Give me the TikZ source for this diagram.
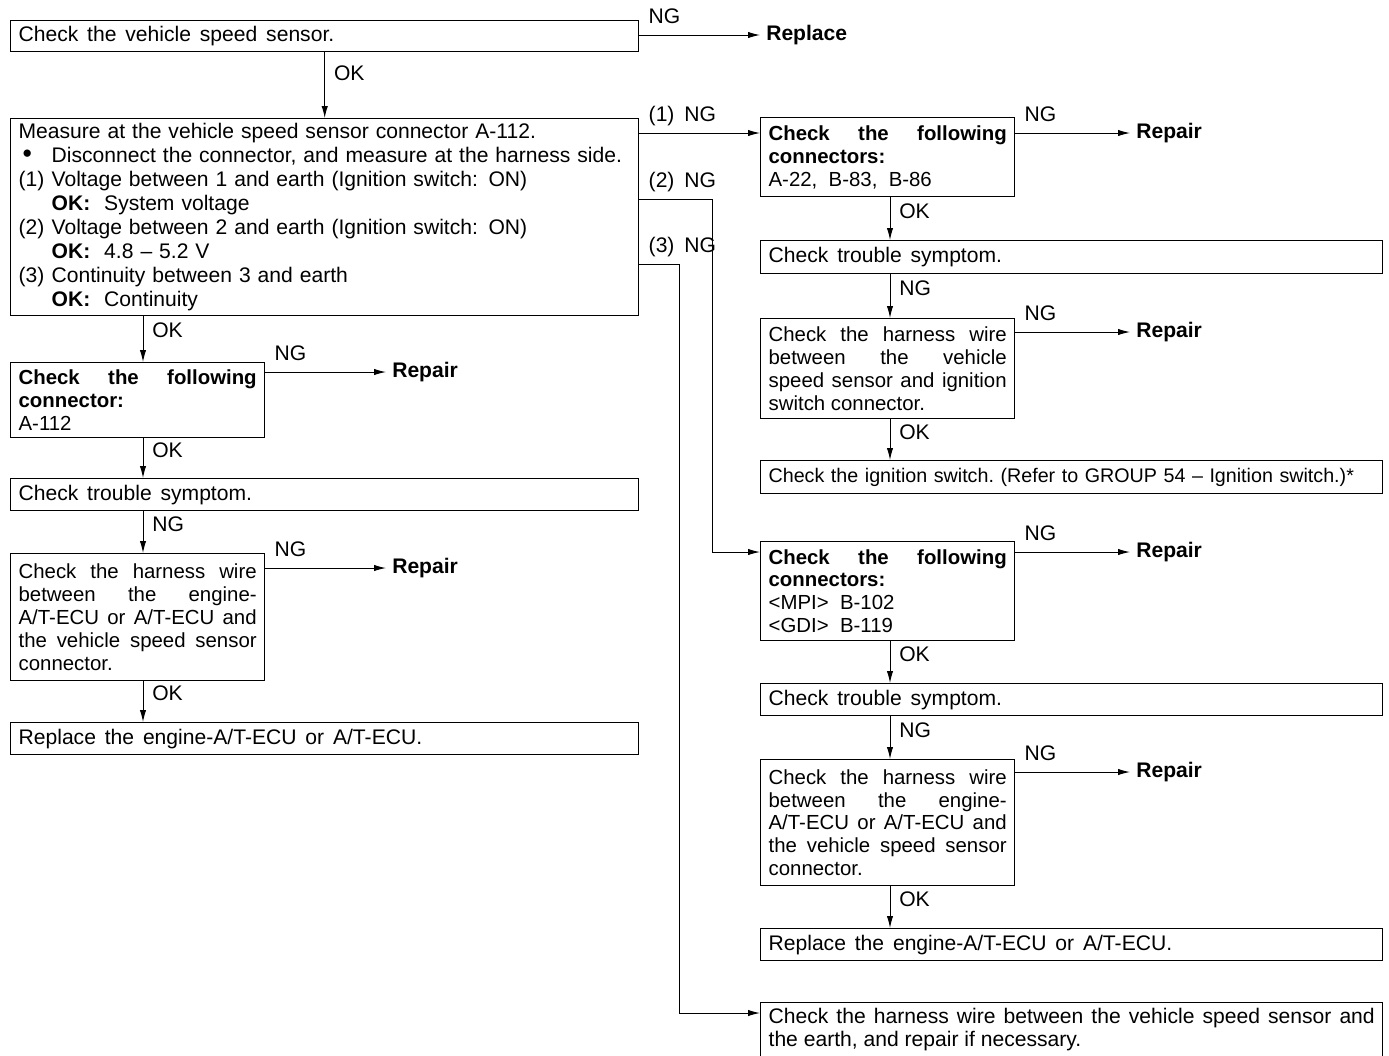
\documentclass[tikz,border=0pt]{standalone}
\usepackage{fontspec}
\setmainfont{Liberation Sans}
\usetikzlibrary{arrows.meta}

\newcommand{\widespace}{\spaceskip=0.42em\relax}
\newcommand{\midspace}{\spaceskip=0.33em\relax}

\tikzset{
    every node/.style={font=\fontsize{15}{17}\selectfont},
    box/.style={draw, line width=0.9pt, anchor=north west, inner xsep=0.2cm, inner ysep=0.06cm},
    longL/.style={box, text width=15.3cm, align=left},
    longR/.style={box, text width=15.15cm, align=left},
    slim/.style={box, text width=5.95cm, align=justify, font=\fontsize{14.5}{16.3}\selectfont},
    rep/.style={anchor=west, inner sep=0.15cm, font=\fontsize{15}{17}\selectfont\bfseries},
    ng/.style={anchor=base west, inner sep=0pt, xshift=0.22cm, yshift=0.3cm},
    ok/.style={anchor=west, inner sep=0pt, xshift=0.22cm},
    conn/.style={line width=0.7pt, ->}
}

\begin{document}
\begin{tikzpicture}[x=0.025cm, y=-0.025cm, >={Latex[length=0.3cm,width=0.16cm]}]
    \useasboundingbox (0,0) rectangle (1389,1055);
    \clip (0,0) rectangle (1389,1055);

    % left column
    \node[longL, minimum height=0.775cm, execute at begin node=\widespace] (vss) at (10,20) {Check the vehicle speed sensor.};
    \node[longL, minimum height=4.925cm, execute at begin node=\midspace] (meas) at (10,118) {Measure at the vehicle speed sensor connector A-112.\\
        \makebox[0.825cm][l]{\hspace{0.1cm}{\fontsize{19}{17}\selectfont•}}Disconnect the connector, and measure at the harness side.\\
        \makebox[0.825cm][l]{(1)}Voltage between 1 and earth (Ignition switch: ON)\\
        \hspace*{0.825cm}\textbf{OK:}\ \ System voltage\\
        \makebox[0.825cm][l]{(2)}Voltage between 2 and earth (Ignition switch: ON)\\
        \hspace*{0.825cm}\textbf{OK:}\ \ 4.8 -- 5.2 V\\
        \makebox[0.825cm][l]{(3)}Continuity between 3 and earth\\
        \hspace*{0.825cm}\textbf{OK:}\ \ Continuity};
    \node[slim, minimum height=1.875cm] (conL) at (10,362) {\textbf{Check the following\linebreak connector:}\par A-112};
    \node[longL, minimum height=0.8cm, execute at begin node=\widespace] (symL) at (10,478) {Check trouble symptom.};
    \node[slim, minimum height=3.175cm] (harL) at (10,553) {Check the harness wire\linebreak between the engine-\linebreak A/T-ECU or A/T-ECU and\linebreak the vehicle speed sensor\linebreak connector.};
    \node[longL, minimum height=0.8cm, execute at begin node=\widespace] (ecuL) at (10,722) {Replace the engine-A/T-ECU or A/T-ECU.};

    % right column
    \node[slim, minimum height=1.975cm] (conR1) at (760,117) {\textbf{Check the following\linebreak connectors:}\par A-22,~ B-83,~ B-86};
    \node[longR, minimum height=0.825cm, execute at begin node=\widespace] (symR1) at (760,240) {Check trouble symptom.};
    \node[slim, minimum height=2.5cm] (harR1) at (760,318) {Check the harness wire\linebreak between the vehicle\linebreak speed sensor and ignition\linebreak switch connector.};
    \node[longR, minimum height=0.825cm, font=\fontsize{14}{17}\selectfont\frenchspacing] (ignR) at (760,460) {Check the ignition switch. (Refer to GROUP 54 -- Ignition switch.)*};
    \node[slim, minimum height=2.475cm] (conR2) at (760,541) {\textbf{Check the following\linebreak connectors:}\par <MPI>~ B-102\par <GDI>~ B-119};
    \node[longR, minimum height=0.8cm, execute at begin node=\widespace] (symR2) at (760,683) {Check trouble symptom.};
    \node[slim, minimum height=3.15cm] (harR2) at (760,759) {Check the harness wire\linebreak between the engine-\linebreak A/T-ECU or A/T-ECU and\linebreak the vehicle speed sensor\linebreak connector.};
    \node[longR, minimum height=0.8cm, execute at begin node=\widespace] (ecuR) at (760,928) {Replace the engine-A/T-ECU or A/T-ECU.};
    \node[longR, align=justify, inner ysep=0.15cm, font=\fontsize{15}{16}\selectfont] (earR) at (760,1002) {Check the harness wire between the vehicle speed sensor and\linebreak the earth, and repair if necessary.\par\rule{0pt}{0.8cm}};

    % results
    \node[rep] (repV) at (760,35) {Replace};
    \node[rep] (repL1) at (386,372) {Repair};
    \node[rep] (repL2) at (386,568) {Repair};
    \node[rep] (repR1) at (1130,133) {Repair};
    \node[rep] (repR2) at (1130,332) {Repair};
    \node[rep] (repR3) at (1130,552) {Repair};
    \node[rep] (repR4) at (1130,772) {Repair};

    \coordinate (cl) at (143,0);
    \coordinate (cr) at (890,0);
    \coordinate (in1) at (760,133);
    \coordinate (turn2) at (712,199);
    \coordinate (in2) at (760,552);
    \coordinate (turn3) at (679,264);
    \coordinate (in3) at (760,1013);

    \draw[conn] (vss) -- (meas) node[ok, pos=0.32] {OK};
    \draw[conn] (cl |- meas.south) -- (cl |- conL.north) node[ok, pos=0.3] {OK};
    \draw[conn] (cl |- conL.south) -- (cl |- symL.north) node[ok, pos=0.3] {OK};
    \draw[conn] (cl |- symL.south) -- (cl |- harL.north) node[ok, pos=0.3] {NG};
    \draw[conn] (cl |- harL.south) -- (cl |- ecuL.north) node[ok, pos=0.3] {OK};

    \draw[conn] (cr |- conR1.south) -- (cr |- symR1.north) node[ok, pos=0.32] {OK};
    \draw[conn] (cr |- symR1.south) -- (cr |- harR1.north) node[ok, pos=0.32] {NG};
    \draw[conn] (cr |- harR1.south) -- (cr |- ignR.north) node[ok, pos=0.32] {OK};
    \draw[conn] (cr |- conR2.south) -- (cr |- symR2.north) node[ok, pos=0.32] {OK};
    \draw[conn] (cr |- symR2.south) -- (cr |- harR2.north) node[ok, pos=0.32] {NG};
    \draw[conn] (cr |- harR2.south) -- (cr |- ecuR.north) node[ok, pos=0.32] {OK};

    \draw[conn] (vss.east |- repV) node[ng] {NG} -- (repV);
    \draw[conn] (conL.east |- repL1) node[ng] {NG} -- (repL1);
    \draw[conn] (harL.east |- repL2) node[ng] {NG} -- (repL2);
    \draw[conn] (conR1.east |- repR1) node[ng] {NG} -- (repR1);
    \draw[conn] (harR1.east |- repR2) node[ng] {NG} -- (repR2);
    \draw[conn] (conR2.east |- repR3) node[ng] {NG} -- (repR3);
    \draw[conn] (harR2.east |- repR4) node[ng] {NG} -- (repR4);

    \draw[conn] (meas.east |- in1) node[ng] {(1)\hspace{7pt}NG} -- (in1);
    \draw[conn] (meas.east |- turn2) node[ng] {(2)\hspace{7pt}NG} -- (turn2) |- (in2);
    \draw[conn] (meas.east |- turn3) node[ng] {(3)\hspace{7pt}NG} -- (turn3) |- (in3);
\end{tikzpicture}
\end{document}
